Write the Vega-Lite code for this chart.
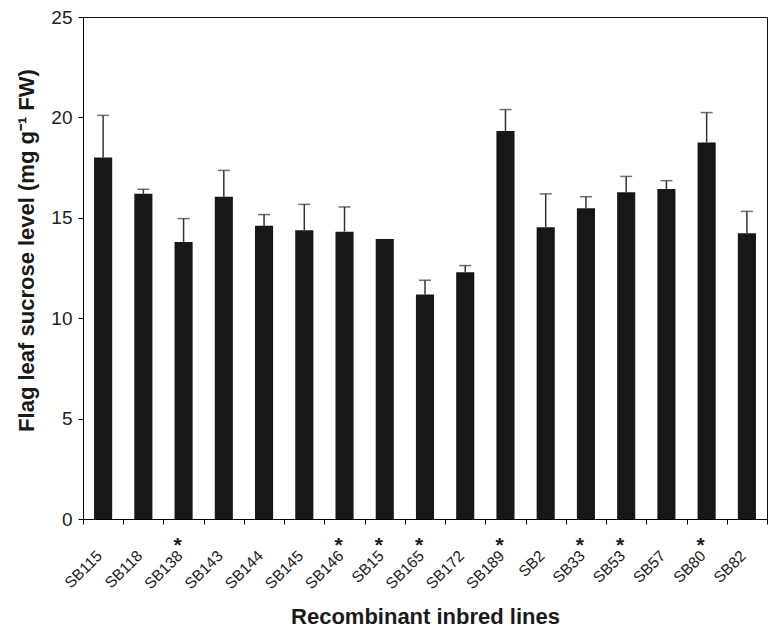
{
  "$schema": "https://vega.github.io/schema/vega-lite/v6.json",
  "width": 684,
  "height": 502,
  "autosize": "none",
  "padding": {"left": 83, "top": 17, "right": 1, "bottom": 108},
  "background": "white",
  "config": {
    "view": {"stroke": "#111", "strokeWidth": 1},
    "font": "Liberation Sans",
    "axis": {"domainColor": "#000", "tickColor": "#000", "labelColor": "#222", "titleColor": "#1a1a1a", "labelFont": "Liberation Sans", "titleFont": "Liberation Sans"}
  },
  "data": {
    "values": [
      {"line": "SB115", "value": 18.0, "upper": 20.1, "sig": ""},
      {"line": "SB118", "value": 16.2, "upper": 16.42, "sig": ""},
      {"line": "SB138", "value": 13.8, "upper": 14.96, "sig": "*"},
      {"line": "SB143", "value": 16.05, "upper": 17.36, "sig": ""},
      {"line": "SB144", "value": 14.61, "upper": 15.16, "sig": ""},
      {"line": "SB145", "value": 14.38, "upper": 15.67, "sig": ""},
      {"line": "SB146", "value": 14.31, "upper": 15.54, "sig": "*"},
      {"line": "SB15", "value": 13.95, "upper": null, "sig": "*"},
      {"line": "SB165", "value": 11.18, "upper": 11.89, "sig": "*"},
      {"line": "SB172", "value": 12.29, "upper": 12.62, "sig": ""},
      {"line": "SB189", "value": 19.32, "upper": 20.39, "sig": "*"},
      {"line": "SB2", "value": 14.53, "upper": 16.19, "sig": ""},
      {"line": "SB33", "value": 15.47, "upper": 16.05, "sig": "*"},
      {"line": "SB53", "value": 16.27, "upper": 17.06, "sig": "*"},
      {"line": "SB57", "value": 16.44, "upper": 16.85, "sig": ""},
      {"line": "SB80", "value": 18.75, "upper": 20.24, "sig": "*"},
      {"line": "SB82", "value": 14.23, "upper": 15.32, "sig": ""}
    ]
  },
  "encoding": {
    "x": {
      "field": "line",
      "type": "nominal",
      "sort": null,
      "scale": {"paddingInner": 0, "paddingOuter": 0},
      "axis": {
        "title": "Recombinant inbred lines",
        "labelAngle": -45,
        "labelAlign": "right",
        "labelBaseline": "top",
        "labelOffset": -9,
        "labelPadding": 24,
        "labelFontSize": 15.5,
        "tickBand": "extent",
        "tickSize": 5,
        "titleFontSize": 22,
        "titleFontWeight": "bold",
        "titleY": 104,
        "titleBaseline": "alphabetic"
      }
    }
  },
  "layer": [
    {
      "mark": {"type": "bar", "width": {"band": 0.45}, "color": "#171717"},
      "encoding": {
        "y": {
          "field": "value",
          "type": "quantitative",
          "scale": {"domain": [0, 25], "nice": false},
          "axis": {
            "title": "Flag leaf sucrose level (mg g⁻¹ FW)",
            "values": [0, 5, 10, 15, 20, 25],
            "grid": false,
            "tickSize": 5,
            "labelFontSize": 19,
            "labelPadding": 6,
            "titleFontSize": 22,
            "titleFontWeight": "bold",
            "titlePadding": 12,
            "titleY": 233
          }
        }
      }
    },
    {
      "transform": [{"filter": "datum.upper != null"}],
      "mark": {"type": "rule", "color": "#333", "strokeWidth": 1.5},
      "encoding": {
        "y": {"field": "value", "type": "quantitative"},
        "y2": {"field": "upper"}
      }
    },
    {
      "transform": [{"filter": "datum.upper != null"}],
      "mark": {"type": "tick", "color": "#333", "thickness": 1.5, "size": 12, "orient": "horizontal"},
      "encoding": {
        "y": {"field": "upper", "type": "quantitative"}
      }
    },
    {
      "mark": {"type": "text", "dy": 33, "dx": -6, "fontSize": 21, "fontWeight": "bold", "baseline": "alphabetic", "color": "#1a1a1a"},
      "encoding": {
        "y": {"datum": 0},
        "text": {"field": "sig"}
      }
    }
  ]
}
